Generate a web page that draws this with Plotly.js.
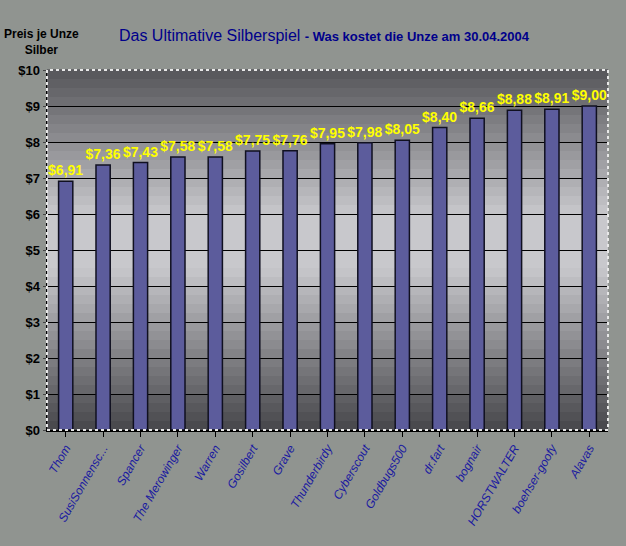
<!DOCTYPE html>
<html>
<head>
<meta charset="utf-8">
<script src="https://cdn.plot.ly/plotly-3.0.1.min.js"></script>
<style>body{margin:0;background:#909490}#chart{width:626px;height:546px}</style>
</head>
<body>
<div id="chart"></div>
<script>
const players = ['Thom', 'SusiSonnensc...', 'Spancer', 'The Merowinger', 'Warren', 'Gosilbert', 'Grave',
  'Thunderbirdy', 'Cyberscout', 'Goldbugs500', 'dr.fart', 'bognair', 'HORSTWALTER', 'boehser-goofy', 'Alavas'];
const prices = [6.91, 7.36, 7.43, 7.58, 7.58, 7.75, 7.76, 7.95, 7.98, 8.05, 8.40, 8.66, 8.88, 8.91, 9.00];
const tickValues = [0, 1, 2, 3, 4, 5, 6, 7, 8, 9, 10];

// plot-area gradient: dark top, light middle, dark bottom
function bandColor(t) {
  // t = 0 bottom, 1 top
  const stops = [[0, 70], [0.45, 200], [0.6, 200], [1, 85]];
  for (let i = 1; i < stops.length; i++) {
    if (t <= stops[i][0]) {
      const [a, ca] = stops[i - 1];
      const [b, cb] = stops[i];
      const v = Math.round(ca + (cb - ca) * (t - a) / (b - a));
      return `rgb(${v},${v},${v + 4})`;
    }
  }
  return 'rgb(85,85,89)';
}
const bands = [];
const N = 40;
for (let i = 0; i < N; i++) {
  bands.push({
    type: 'rect', xref: 'x domain', yref: 'y domain', layer: 'below',
    x0: 0, x1: 1, y0: i / N, y1: (i + 1) / N + 0.002,
    fillcolor: bandColor((i + 0.5) / N), line: { width: 0 },
  });
}

Plotly.newPlot('chart', [{
  type: 'bar',
  x: players,
  y: prices,
  width: 0.38,
  marker: { color: '#5c5c9c', line: { color: '#101020', width: 1.5 } },
  text: prices.map((p) => '$' + p.toFixed(2).replace('.', ',')),
  textposition: 'outside',
  constraintext: 'none',
  cliponaxis: false,
  textfont: { color: '#ffff00', family: 'Liberation Sans Narrow, Arial Narrow, sans-serif', size: 14, weight: 'bold' },
  hoverinfo: 'skip',
}], {
  width: 626,
  height: 546,
  paper_bgcolor: '#909490',
  plot_bgcolor: '#909490',
  margin: { l: 47, r: 18, t: 70, b: 116 },
  showlegend: false,
  title: {
    text: 'Das Ultimative Silberspiel <span style="font-size:13px;font-weight:bold">- Was kostet die Unze am 30.04.2004</span>',
    x: 0.19, xanchor: 'left', y: 0.945,
    font: { family: 'Liberation Sans, Arial, sans-serif', size: 16, color: '#00008b' },
  },
  xaxis: {
    tickangle: -60,
    tickfont: { family: 'Liberation Sans, Arial, sans-serif', size: 12, color: '#1a1aa0', style: 'italic' },
    showline: true, linecolor: '#000', linewidth: 1.5,
    ticks: 'outside', ticklen: 5, tickcolor: '#000',
    showgrid: false,
  },
  yaxis: {
    range: [0, 10],
    tickvals: tickValues,
    ticktext: tickValues.map((v) => '$' + v),
    tickfont: { family: 'Liberation Sans Narrow, Arial Narrow, sans-serif', size: 13, color: '#000', weight: 'bold' },
    showgrid: true, gridcolor: '#000', gridwidth: 1,
    showline: true, linecolor: '#000', linewidth: 1.5,
    ticks: 'outside', ticklen: 3, zeroline: false,
  },
  shapes: bands.concat([{
    type: 'rect', xref: 'paper', yref: 'paper', x0: 0, x1: 1, y0: 0, y1: 1,
    line: { color: '#e8e8e8', width: 2, dash: 'dot' }, layer: 'above',
  }]),
  annotations: [{
    text: '<b>Preis je Unze<br>Silber</b>', xref: 'paper', yref: 'paper',
    x: -0.01, y: 1.03, xanchor: 'center', yanchor: 'bottom', showarrow: false, align: 'center',
    font: { family: 'Liberation Sans Narrow, Arial Narrow, sans-serif', size: 12, color: '#000' },
  }],
}, { displayModeBar: false, staticPlot: true });
</script>
</body>
</html>
